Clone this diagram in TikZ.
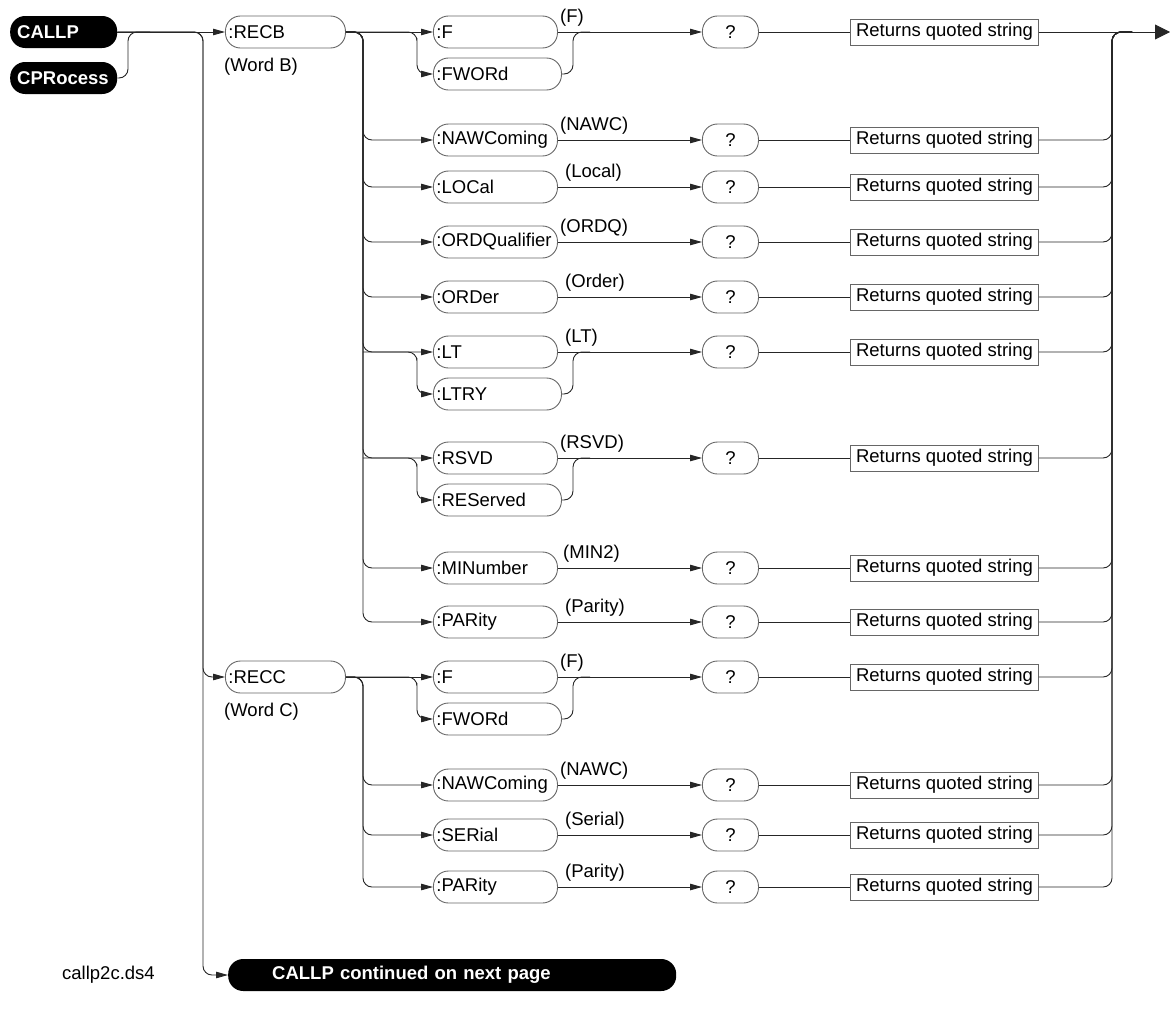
\documentclass[tikz,border=0pt]{standalone}
\usepackage{fontspec}
\setmainfont{Liberation Sans}
\usetikzlibrary{arrows.meta,calc}
\newcommand\dfont{\fontsize{18.5}{22}\selectfont}
\newcommand\mainrow[5]{%
  \node[pill] (#1) at (433,#2) {#3};
  \node[lbl] (#1l) at (#5,#2-9.5) {#4};
  \node[qpill] (#1q) at (702,#2) {?};
  \node[rbox] (#1r) at (850,#2) {Returns quoted string};
  \draw[arr] (#1.east) -- (#1q.west);
  \draw[ln] (#1q.east) -- (#1r.west);
}
\begin{document}
\begin{tikzpicture}[x=1pt,y=-1pt,
  ln/.style={draw=black!85, line width=0.9pt},
  rc/.style={rounded corners=9pt},
  arr/.style={ln, -{Triangle[length=12pt,width=6.5pt]}},
  bigarr/.style={ln, -{Triangle[length=15pt,width=15pt]}},
  bpill/.style={fill=black, text=white, font=\dfont\bfseries, rounded corners=15pt,
    minimum height=32pt, inner xsep=7pt, inner ysep=0pt, text width=93pt, align=left, anchor=west},
  pill/.style={draw=black!60, line width=0.9pt, font=\dfont, rounded corners=15pt,
    minimum height=32pt, inner xsep=3pt, inner ysep=0pt, text width=118pt, align=left, anchor=west},
  pill2/.style={pill, text width=122pt},
  qpill/.style={draw=black!60, line width=0.9pt, font=\dfont, rounded corners=15pt,
    minimum width=56pt, minimum height=32pt, inner sep=0pt, anchor=west},
  rbox/.style={draw=black!60, line width=0.9pt, font=\dfont, minimum width=188pt,
    minimum height=26pt, inner sep=0pt, anchor=west},
  lbl/.style={font=\dfont, inner sep=0pt, anchor=base west}
]
\useasboundingbox (0,0) rectangle (1170,1020);
% merge coordinates
\coordinate (M) at (1112,32);
\coordinate (M2) at (1132,32);
\coordinate (endp) at (1170,32);
\coordinate (J) at (128,32);
\coordinate (J2) at (150,32);
\coordinate (vM) at (203,52);
\coordinate (vB) at (363,52);
\coordinate (vC) at (363,697);

% start nodes
\node[bpill] (callp) at (10,32) {CALLP};
\node[bpill] (cpr) at (10,78) {CPRocess};
\node[pill, text width=114pt] (recb) at (225,32) {:RECB};
\node[lbl] (wordb) at (224,71) {(Word B)};
\node[pill, text width=114pt] (recc) at (225,677) {:RECC};
\node[lbl] (wordc) at (224,716) {(Word C)};
\node[fill=black, text=white, font=\dfont\bfseries, rounded corners=15pt, minimum height=32pt,
  inner xsep=44pt, inner ysep=0pt, text width=360pt, align=left, anchor=west] (cont) at (228,975)
  {CALLP continued on next page};
\node[font=\dfont, anchor=west, inner sep=0pt] (fname) at (62,975) {callp2c.ds4};

\draw[arr] (callp.east) -- (recb.west);
\draw[ln,rc] (cpr.east) -| (J) -- (J2);
\draw[arr,rc] (callp.east) -| (vM) |- (recc.west);
\draw[arr,rc] (callp.east) -| (vM) |- (cont.west);

% ---------- RECB group ----------
\mainrow{fB}{32}{:F}{(F)}{560}
\node[pill2] (fwB) at (433,74) {:FWORd};
\coordinate (sB) at (417,47);
\coordinate (mB) at (573,32);
\coordinate (mB2) at (590,32);
\draw[arr] (recb.east) -- (fB.west);
\draw[arr,rc] (recb.east) -| (sB) |- (fwB.west);
\draw[ln,rc] (fwB.east) -| (mB) -- (mB2);

\mainrow{nawcB}{140}{:NAWComing}{(NAWC)}{560}
\mainrow{locB}{187}{:LOCal}{(Local)}{565}
\mainrow{ordqB}{242}{:ORDQualifier}{(ORDQ)}{560}
\mainrow{ordB}{297}{:ORDer}{(Order)}{565}
\mainrow{ltB}{352}{:LT}{(LT)}{565}
\node[pill2] (ltryB) at (433,394) {:LTRY};
\mainrow{rsvdB}{458}{:RSVD}{(RSVD)}{560}
\node[pill2] (resB) at (433,500) {:REServed};
\mainrow{minB}{568}{:MINumber}{(MIN2)}{563}
\mainrow{parB}{622}{:PARity}{(Parity)}{565}

\foreach \n in {nawcB,locB,ordqB,ordB,ltB,rsvdB,minB,parB}{
  \draw[arr,rc] (recb.east) -| (vB) |- (\n.west);
}
\coordinate (sLT) at (417,367);
\coordinate (mLT) at (573,352);
\coordinate (mLT2) at (590,352);
\draw[arr,rc] (vB |- ltB.west) -| (sLT) |- (ltryB.west);
\draw[ln,rc] (ltryB.east) -| (mLT) -- (mLT2);
\coordinate (sRS) at (417,473);
\coordinate (mRS) at (573,458);
\coordinate (mRS2) at (590,458);
\draw[arr,rc] (vB |- rsvdB.west) -| (sRS) |- (resB.west);
\draw[ln,rc] (resB.east) -| (mRS) -- (mRS2);

% ---------- RECC group ----------
\mainrow{fC}{677}{:F}{(F)}{560}
\node[pill2] (fwC) at (433,719) {:FWORd};
\coordinate (sC) at (417,692);
\coordinate (mC) at (573,677);
\coordinate (mC2) at (590,677);
\draw[arr] (recc.east) -- (fC.west);
\draw[arr,rc] (recc.east) -| (sC) |- (fwC.west);
\draw[ln,rc] (fwC.east) -| (mC) -- (mC2);

\mainrow{nawcC}{785}{:NAWComing}{(NAWC)}{560}
\mainrow{serC}{835}{:SERial}{(Serial)}{565}
\mainrow{parC}{887}{:PARity}{(Parity)}{565}
\foreach \n in {nawcC,serC,parC}{
  \draw[arr,rc] (recc.east) -| (vC) |- (\n.west);
}

% merges into the output line
\foreach \n in {nawcB,locB,ordqB,ordB,ltB,rsvdB,minB,parB,fC,nawcC,serC,parC}{
  \draw[ln,rc] (\n r.east) -| (M) -- (M2);
}
% final output arrow
\draw[bigarr] (fBr.east) -- (endp);
\end{tikzpicture}
\end{document}
